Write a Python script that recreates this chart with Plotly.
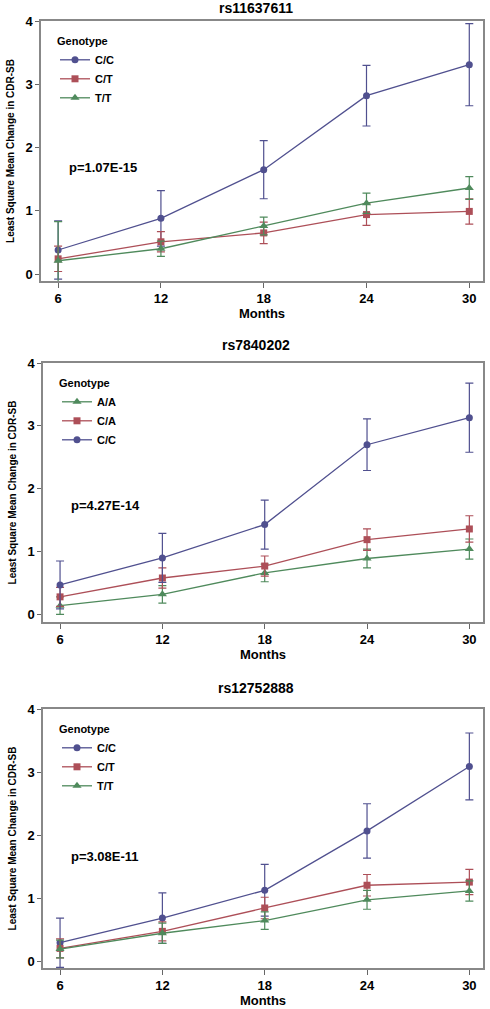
import plotly.graph_objects as go

months = [6, 12, 18, 24, 30]
month_ticks = ["6", "12", "18", "24", "30"]

# Panel 1: rs11637611
p1_title = "rs11637611"
p1_pvalue = "p=1.07E-15"
p1_CC = [0.38, 0.88, 1.65, 2.82, 3.31]
p1_CC_err = [0.46, 0.44, 0.46, 0.48, 0.65]
p1_CT = [0.24, 0.51, 0.65, 0.94, 0.99]
p1_CT_err = [0.20, 0.16, 0.17, 0.17, 0.20]
p1_TT = [0.21, 0.40, 0.76, 1.12, 1.36]
p1_TT_err = [0.62, 0.12, 0.14, 0.16, 0.18]

# Panel 2: rs7840202
p2_title = "rs7840202"
p2_pvalue = "p=4.27E-14"
p2_AA = [0.14, 0.32, 0.66, 0.89, 1.04]
p2_AA_err = [0.14, 0.14, 0.14, 0.15, 0.16]
p2_CA = [0.28, 0.58, 0.77, 1.19, 1.36]
p2_CA_err = [0.15, 0.16, 0.16, 0.17, 0.21]
p2_CC = [0.47, 0.90, 1.43, 2.70, 3.13]
p2_CC_err = [0.38, 0.39, 0.39, 0.41, 0.55]

# Panel 3: rs12752888
p3_title = "rs12752888"
p3_pvalue = "p=3.08E-11"
p3_CC = [0.30, 0.69, 1.13, 2.07, 3.09]
p3_CC_err = [0.39, 0.40, 0.41, 0.43, 0.53]
p3_CT = [0.21, 0.48, 0.85, 1.21, 1.26]
p3_CT_err = [0.15, 0.15, 0.17, 0.17, 0.20]
p3_TT = [0.20, 0.45, 0.65, 0.98, 1.12]
p3_TT_err = [0.14, 0.16, 0.14, 0.15, 0.16]

BLUE = "#50508f"
RED = "#ad4f58"
GREEN = "#4f8a5c"
FONT = "Liberation Sans, Arial, sans-serif"

W, H = 490, 1009


def fx(px):
    return px / W


def fy(py):
    return 1 - py / H


panels = [
    dict(l=41, r=483, t=21, b=281, title_y=8, ymin=-0.11, p_y=0.435,
         title=p1_title, pval=p1_pvalue,
         series=[("C/C", p1_CC, p1_CC_err, BLUE, "circle"),
                 ("C/T", p1_CT, p1_CT_err, RED, "square"),
                 ("T/T", p1_TT, p1_TT_err, GREEN, "triangle-up")]),
    dict(l=43, r=483, t=363, b=622, title_y=345, ymin=-0.12, p_y=0.45,
         title=p2_title, pval=p2_pvalue,
         series=[("A/A", p2_AA, p2_AA_err, GREEN, "triangle-up"),
                 ("C/A", p2_CA, p2_CA_err, RED, "square"),
                 ("C/C", p2_CC, p2_CC_err, BLUE, "circle")]),
    dict(l=43, r=483, t=709, b=968, title_y=688, ymin=-0.10, p_y=0.43,
         title=p3_title, pval=p3_pvalue,
         series=[("C/C", p3_CC, p3_CC_err, BLUE, "circle"),
                 ("C/T", p3_CT, p3_CT_err, RED, "square"),
                 ("T/T", p3_TT, p3_TT_err, GREEN, "triangle-up")]),
]

fig = go.Figure()
annotations = []
layout = dict(
    width=W, height=H,
    margin=dict(l=0, r=0, t=0, b=0),
    paper_bgcolor="white", plot_bgcolor="white",
    font=dict(family=FONT, color="black"),
    showlegend=True,
)

for i, p in enumerate(panels):
    n = i + 1
    xa = "x" if n == 1 else f"x{n}"
    ya = "y" if n == 1 else f"y{n}"
    lg = "legend" if n == 1 else f"legend{n}"
    for name, vals, err, col, sym in p["series"]:
        fig.add_trace(go.Scatter(
            x=months, y=vals, name=name, mode="lines+markers",
            xaxis=xa, yaxis=ya, legend=lg,
            line=dict(color=col, width=1.3),
            marker=dict(color=col, symbol=sym, size=7 if sym != "triangle-up" else 8),
            error_y=dict(type="data", array=err, visible=True, color=col,
                         thickness=1.2, width=4),
        ))
    xdom = [fx(p["l"]), fx(p["r"])]
    ydom = [fy(p["b"]), fy(p["t"])]
    layout["xaxis" if n == 1 else f"xaxis{n}"] = dict(
        domain=xdom, anchor=ya, range=[5.0, 30.8], automargin=False,
        tickvals=months, ticktext=month_ticks,
        ticks="outside", ticklen=5, tickwidth=1.2, tickcolor="#666",
        showline=True, linecolor="#888", linewidth=1.5, mirror=True,
        showgrid=False, zeroline=False,
        tickfont=dict(size=13, family=FONT, weight="bold"),
        title=dict(text="Months", standoff=3,
                   font=dict(size=13, family=FONT, weight="bold")),
    )
    layout["yaxis" if n == 1 else f"yaxis{n}"] = dict(
        domain=ydom, anchor=xa, range=[p["ymin"], 4.0], automargin=False,
        tickvals=[0, 1, 2, 3, 4],
        ticks="outside", ticklen=4, tickwidth=1.2, tickcolor="#666",
        showline=True, linecolor="#888", linewidth=1.5, mirror=True,
        showgrid=False, zeroline=False,
        tickfont=dict(size=13, family=FONT, weight="bold"),
        title=dict(text="Least Square Mean Change in CDR-SB", standoff=9,
                   font=dict(size=10, family=FONT, weight="bold")),
    )
    layout[lg] = dict(
        x=fx(p["l"] + 14), y=fy(p["t"] + 10),
        xanchor="left", yanchor="top",
        bgcolor="rgba(0,0,0,0)", borderwidth=0,
        title=dict(text="Genotype", font=dict(size=11, family=FONT, weight="bold")),
        font=dict(size=11, family=FONT, weight="bold"),
        traceorder="normal",
    )
    annotations.append(dict(
        text=p["title"], xref="paper", yref="paper",
        x=fx(256), y=fy(p["title_y"]), xanchor="center", yanchor="middle",
        showarrow=False, font=dict(size=14, family=FONT, weight="bold"),
    ))
    annotations.append(dict(
        text=p["pval"], xref=f"{xa} domain", yref=f"{ya} domain",
        x=0.059, y=p["p_y"], xanchor="left", yanchor="middle",
        showarrow=False, font=dict(size=13, family=FONT, weight="bold"),
    ))

layout["annotations"] = annotations
fig.update_layout(**layout)
# remove the browser's default 8px body margin so the figure fills the window
fig.write_html("out.html",
               config={"displayModeBar": False},
               post_script="document.body.style.margin='0px';document.body.style.overflow='hidden';")
